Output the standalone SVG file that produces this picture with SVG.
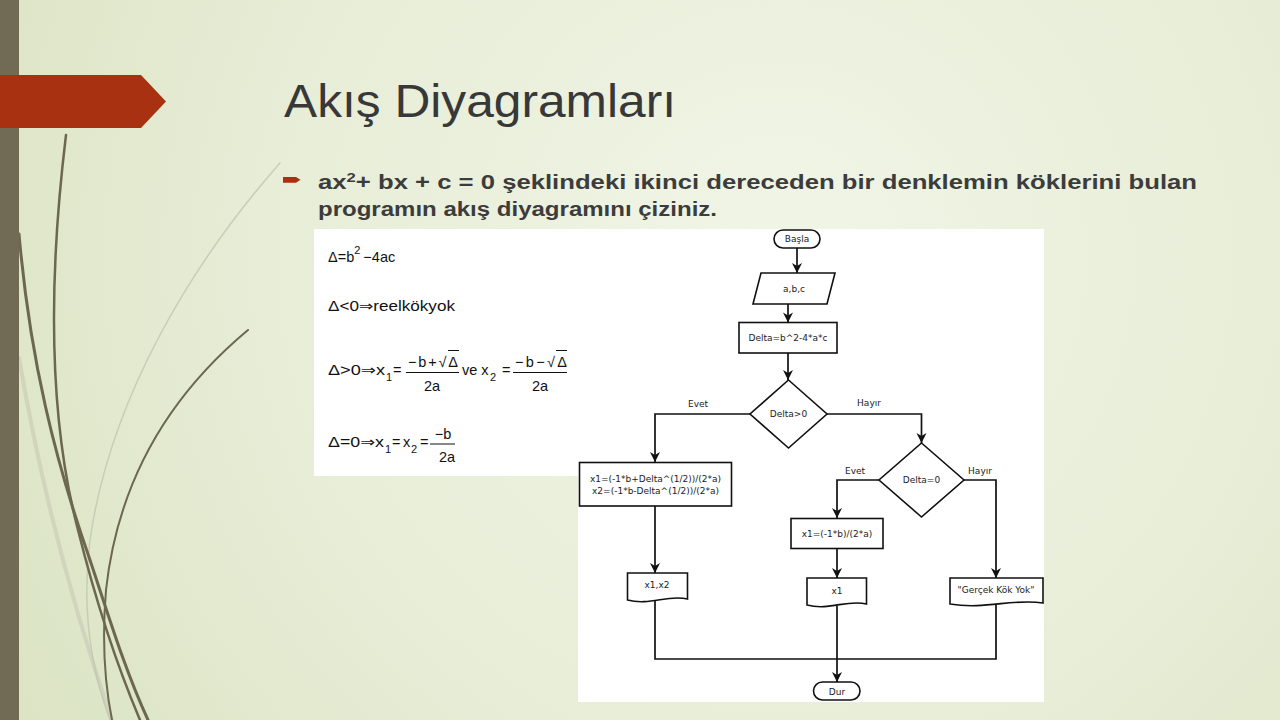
<svg xmlns="http://www.w3.org/2000/svg" width="1280" height="720" viewBox="0 0 1280 720">
<defs>
<radialGradient id="bg" cx="780" cy="260" r="950" gradientUnits="userSpaceOnUse">
<stop offset="0" stop-color="#f1f5e7"/>
<stop offset="0.55" stop-color="#e7edd6"/>
<stop offset="1" stop-color="#d9e2c1"/>
</radialGradient>
<marker id="ah" viewBox="-11 -6 12 12" refX="0" refY="0" markerWidth="12" markerHeight="12" orient="auto" markerUnits="userSpaceOnUse">
<path d="M0,0 L-10,-5 L-7,0 L-10,5 Z" fill="#111"/>
</marker>
<style>
.ttl{font-family:"Liberation Sans",Arial,sans-serif;font-size:46px;fill:#383838}
.bul{font-family:"Liberation Sans",Arial,sans-serif;font-size:20px;font-weight:bold;fill:#3c3c3c}
.m{font-family:"Liberation Sans",Arial,"DejaVu Sans",sans-serif;font-size:14.5px;fill:#111}
.ms{font-family:"Liberation Sans",Arial,sans-serif;font-size:11px;fill:#111}
.fb{stroke:#111;stroke-width:1}
.sh{fill:#fff;stroke:#111;stroke-width:1.6}
.ft{font-family:"DejaVu Sans",Verdana,sans-serif;font-size:9px;fill:#222;text-anchor:middle}
.cn{fill:none;stroke:#111;stroke-width:1.7}
.deco{fill:none;stroke-linecap:round}
</style>
</defs>
<rect x="0" y="0" width="1280" height="720" fill="url(#bg)"/>
<!-- left decoration -->
<g id="decoration">
<path class="deco" d="M19,358 C40,480 70,600 112,720" stroke="#c9cdb6" stroke-width="4" opacity="0.7"/>
<path class="deco" d="M280,163 C190,265 110,400 90,540 C80,620 95,680 110,720" stroke="#c2c6b0" stroke-width="1.5" opacity="0.8"/>
<path class="deco" d="M66,135 C52,250 44,400 78,530 C98,610 118,668 140,720" stroke="#6c6750" stroke-width="2.5"/>
<path class="deco" d="M19,234 C30,360 55,460 90,560 C110,620 125,670 148,720" stroke="#6c6750" stroke-width="3"/>
<path class="deco" d="M248,330 C170,395 118,480 106,590 C101,650 106,690 112,720" stroke="#6c6750" stroke-width="2"/>
<rect x="0" y="0" width="19" height="720" fill="#716b56"/>
<path d="M0,75 H141 L166,101.5 L141,128 H0 Z" fill="#a83111"/>
</g>
<!-- title & bullet -->
<text class="ttl" x="284" y="117" textLength="392" lengthAdjust="spacingAndGlyphs">Akış Diyagramları</text>
<path d="M283,177 H296 L300.5,179.8 L296,182.8 H283 Z" fill="#a83111"/>
<text class="bul" x="318" y="189" textLength="879" lengthAdjust="spacingAndGlyphs">ax<tspan font-size="13" dy="-7">2</tspan><tspan dy="7">+ bx + c = 0 şeklindeki ikinci dereceden bir denklemin köklerini bulan</tspan></text>
<text class="bul" x="318" y="216" textLength="399" lengthAdjust="spacingAndGlyphs">programın akış diyagramını çiziniz.</text>
<!-- white panels -->
<rect x="314" y="229" width="730" height="247" fill="#fff"/>
<rect x="578" y="229" width="466" height="473" fill="#fff"/>
<!-- math -->
<g id="math">
<text class="m" x="328" y="262">Δ=b<tspan class="ms" dy="-8">2</tspan><tspan dx="3" dy="8">−4ac</tspan></text>
<text class="m" x="328" y="311" textLength="127" lengthAdjust="spacingAndGlyphs">Δ&lt;0⇒reelkökyok</text>
<text class="m" x="328" y="375" textLength="57" lengthAdjust="spacingAndGlyphs">Δ&gt;0⇒x</text>
<text class="ms" x="386" y="381">1</text>
<text class="m" x="393" y="375">=</text>
<text class="m" x="408" y="367" textLength="50" lengthAdjust="spacing">−b+√Δ</text>
<line class="fb" x1="448" y1="350.5" x2="459" y2="350.5"/>
<line class="fb" x1="406" y1="372.5" x2="459" y2="372.5"/>
<text class="m" x="432" y="391" text-anchor="middle">2a</text>
<text class="m" x="462" y="375">ve x</text>
<text class="ms" x="490" y="381">2</text>
<text class="m" x="502" y="375">=</text>
<text class="m" x="515" y="367" textLength="52" lengthAdjust="spacing">−b−√Δ</text>
<line class="fb" x1="556" y1="350.5" x2="567" y2="350.5"/>
<line class="fb" x1="513" y1="372.5" x2="567" y2="372.5"/>
<text class="m" x="540" y="391" text-anchor="middle">2a</text>
<text class="m" x="328" y="447" textLength="56" lengthAdjust="spacingAndGlyphs">Δ=0⇒x</text>
<text class="ms" x="385" y="453">1</text>
<text class="m" x="392" y="447">=</text>
<text class="m" x="403" y="447">x</text>
<text class="ms" x="411" y="453">2</text>
<text class="m" x="420" y="447">=</text>
<text class="m" x="443" y="439" text-anchor="middle">−b</text>
<line class="fb" x1="430" y1="444" x2="455" y2="444"/>
<text class="m" x="447" y="462" text-anchor="middle">2a</text>
</g>
<!-- connectors -->
<g id="connectors">
<path class="cn" d="M797,248 V273" marker-end="url(#ah)"/>
<path class="cn" d="M788,304 V322.5" marker-end="url(#ah)"/>
<path class="cn" d="M788,353 V380" marker-end="url(#ah)"/>
<path class="cn" d="M750,414 H655 V462" marker-end="url(#ah)"/>
<path class="cn" d="M827,414 H921.5 V443" marker-end="url(#ah)"/>
<path class="cn" d="M879,480 H837 V518" marker-end="url(#ah)"/>
<path class="cn" d="M964,480 H996 V578" marker-end="url(#ah)"/>
<path class="cn" d="M655,506 V573" marker-end="url(#ah)"/>
<path class="cn" d="M837,548.5 V578" marker-end="url(#ah)"/>
<path class="cn" d="M655,601 V659 H996 V604"/>
<path class="cn" d="M837,606 V682" marker-end="url(#ah)"/>
<text class="ft" x="698" y="407">Evet</text>
<text class="ft" x="869" y="406">Hayır</text>
<text class="ft" x="855" y="474">Evet</text>
<text class="ft" x="980" y="474">Hayır</text>
</g>
<!-- nodes -->
<g id="n-basla">
<rect class="sh" x="774" y="230" width="46" height="18" rx="9"/>
<text class="ft" x="797" y="242">Başla</text>
</g>
<g id="n-input">
<path class="sh" d="M761,273 H835 L827,304 H753 Z"/>
<text class="ft" x="794" y="292">a,b,c</text>
</g>
<g id="n-delta">
<rect class="sh" x="739" y="322.5" width="98" height="30.5"/>
<text class="ft" x="788" y="341">Delta=b^2-4*a*c</text>
</g>
<g id="n-dec1">
<path class="sh" d="M788.5,380 L827,414 L788.5,448 L750,414 Z"/>
<text class="ft" x="788.5" y="417">Delta&gt;0</text>
</g>
<g id="n-dec2">
<path class="sh" d="M921.5,443 L964,480 L921.5,517 L879,480 Z"/>
<text class="ft" x="921.5" y="483">Delta=0</text>
</g>
<g id="n-calc2">
<rect class="sh" x="579.5" y="462.5" width="152" height="43.5"/>
<text class="ft" x="655.5" y="482">x1=(-1*b+Delta^(1/2))/(2*a)</text>
<text class="ft" x="655.5" y="494">x2=(-1*b-Delta^(1/2))/(2*a)</text>
</g>
<g id="n-calc1">
<rect class="sh" x="791" y="518.5" width="92" height="30"/>
<text class="ft" x="837" y="536.5">x1=(-1*b)/(2*a)</text>
</g>
<g id="n-out2">
<path class="sh" d="M627.5,573 H687.5 V599 C668,594 650,606 627.5,600 Z"/>
<text class="ft" x="657" y="588">x1,x2</text>
</g>
<g id="n-out1">
<path class="sh" d="M807,578 H866.5 V604 C847,599 830,611 807,605 Z"/>
<text class="ft" x="837" y="594">x1</text>
</g>
<g id="n-out3">
<path class="sh" d="M950,578 H1043 V603 C1013,598 986,610 950,604 Z"/>
<text class="ft" x="996" y="593">"Gerçek Kök Yok"</text>
</g>
<g id="n-dur">
<rect class="sh" x="813.5" y="682" width="46.5" height="18" rx="9"/>
<text class="ft" x="837" y="694.5">Dur</text>
</g>
</svg>
